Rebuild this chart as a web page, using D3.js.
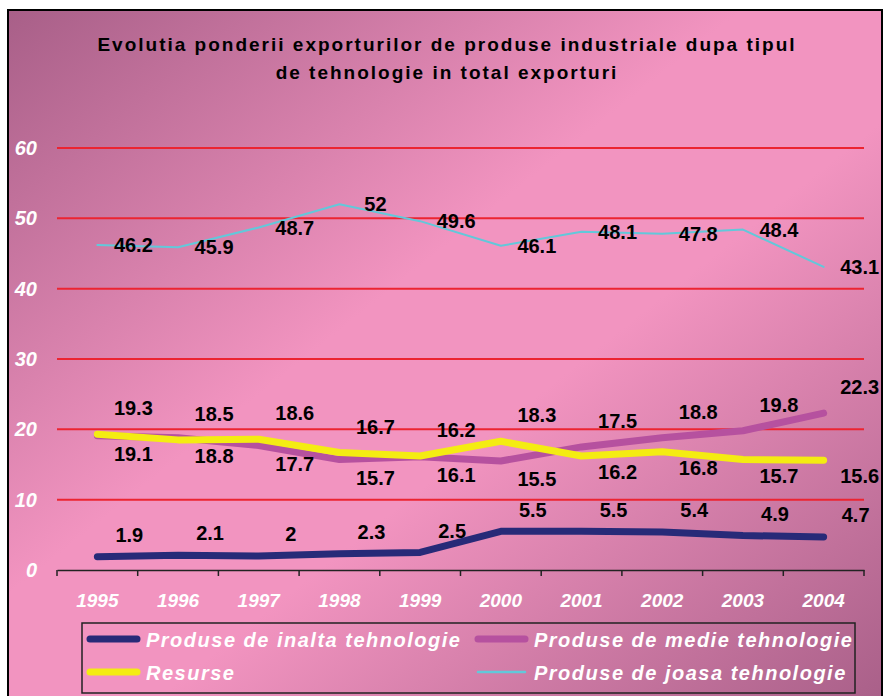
<!DOCTYPE html>
<html>
<head>
<meta charset="utf-8">
<script src="https://cdn.jsdelivr.net/npm/d3@7"></script>
<style>
  body { margin: 0; background: #fff; }
  svg { display: block; font-family: "Liberation Sans", Arial, sans-serif; }
</style>
</head>
<body>
<svg width="883" height="696"></svg>
<script>
const years = ["1995", "1996", "1997", "1998", "1999", "2000", "2001", "2002", "2003", "2004"];
const inalta = [1.9, 2.1, 2, 2.3, 2.5, 5.5, 5.5, 5.4, 4.9, 4.7];
const medie = [19.1, 18.8, 17.7, 15.7, 16.1, 15.5, 17.5, 18.8, 19.8, 22.3];
const resurse = [19.3, 18.5, 18.6, 16.7, 16.2, 18.3, 16.2, 16.8, 15.7, 15.6];
const joasa = [46.2, 45.9, 48.7, 52, 49.6, 46.1, 48.1, 47.8, 48.4, 43.1];
const yTicks = [0, 10, 20, 30, 40, 50, 60];
const title = ["Evolutia ponderii exporturilor de produse industriale dupa tipul",
               "de tehnologie in total exporturi"];

const svg = d3.select("svg"),
    width = +svg.attr("width"),
    height = +svg.attr("height");

// background with diagonal gradient
const defs = svg.append("defs");
const grad = defs.append("linearGradient")
    .attr("id", "bg")
    .attr("x1", 0).attr("y1", 0).attr("x2", 1).attr("y2", 1);
grad.append("stop").attr("offset", 0).attr("stop-color", "#a85f88");
grad.append("stop").attr("offset", 0.42).attr("stop-color", "#f294c0");
grad.append("stop").attr("offset", 0.58).attr("stop-color", "#f294c0");
grad.append("stop").attr("offset", 1).attr("stop-color", "#a85f88");

svg.append("rect")
    .attr("x", 8).attr("y", 10)
    .attr("width", width - 9).attr("height", height)
    .attr("fill", "url(#bg)")
    .attr("stroke", "#000")
    .attr("stroke-width", 2);

svg.append("g")
    .selectAll("text")
    .data(title)
    .enter().append("text")
    .attr("x", 447)
    .attr("y", (d, i) => 51 + i * 28)
    .attr("text-anchor", "middle")
    .style("font-size", "19px")
    .style("font-weight", "bold")
    .style("letter-spacing", "2px")
    .text(d => d);

const x = d3.scaleBand().domain(years).range([57, 864]);
const y = d3.scaleLinear().domain([0, 60]).range([570, 148]);
const cx = d => x(d) + x.bandwidth() / 2;

// grid lines
svg.append("g")
    .selectAll("line")
    .data(yTicks.filter(d => d > 0))
    .enter().append("line")
    .attr("x1", 57).attr("x2", 864)
    .attr("y1", d => y(d)).attr("y2", d => y(d))
    .attr("stroke", "#ec2431")
    .attr("stroke-width", 2);

// y labels
svg.append("g")
    .selectAll("text")
    .data(yTicks)
    .enter().append("text")
    .attr("x", 37)
    .attr("y", d => y(d) + 7)
    .attr("text-anchor", "end")
    .attr("fill", "#fff")
    .style("font-size", "20px")
    .style("font-weight", "bold")
    .style("font-style", "italic")
    .text(d => d);

// x axis
const xAxis = svg.append("g")
    .attr("transform", "translate(0," + y(0) + ")")
    .call(d3.axisBottom(x).tickSize(0).tickFormat(""));
xAxis.select(".domain").attr("stroke", "#222").attr("stroke-width", 1.5);
xAxis.append("g")
    .selectAll("line")
    .data(d3.range(years.length + 1))
    .enter().append("line")
    .attr("x1", i => 57 + i * x.bandwidth())
    .attr("x2", i => 57 + i * x.bandwidth())
    .attr("y1", 0).attr("y2", 6)
    .attr("stroke", "#222").attr("stroke-width", 1.5);

svg.append("g")
    .selectAll("text")
    .data(years)
    .enter().append("text")
    .attr("x", d => cx(d))
    .attr("y", 607)
    .attr("text-anchor", "middle")
    .attr("fill", "#fff")
    .style("font-size", "19px")
    .style("font-weight", "bold")
    .style("font-style", "italic")
    .text(d => d);

const series = [
    {name: "Produse de joasa tehnologie", values: joasa, color: "#62c8da", width: 2},
    {name: "Produse de medie tehnologie", values: medie, color: "#b6519f", width: 7},
    {name: "Resurse", values: resurse, color: "#f4ec12", width: 7},
    {name: "Produse de inalta tehnologie", values: inalta, color: "#272a78", width: 7}
];

const line = d3.line()
    .x((d, i) => cx(years[i]))
    .y(d => y(d));

svg.append("g")
    .selectAll("path")
    .data(series)
    .enter().append("path")
    .attr("d", d => line(d.values))
    .attr("fill", "none")
    .attr("stroke", d => d.color)
    .attr("stroke-width", d => d.width)
    .attr("stroke-linecap", "round")
    .attr("stroke-linejoin", "round");

// data labels
function labels(values, dx, dyFn) {
    svg.append("g")
        .selectAll("text")
        .data(values)
        .enter().append("text")
        .attr("x", (d, i) => cx(years[i]) + dx)
        .attr("y", (d, i) => y(d) + dyFn(d, i))
        .attr("dy", "0.36em")
        .attr("text-anchor", "middle")
        .style("font-size", "20px")
        .style("font-weight", "bold")
        .attr("fill", "#000")
        .text(d => d);
}
labels(joasa, 36, () => 0);
labels(inalta, 32, () => -22);
// resurse labels sit above until 2000, then below; medie the other way round
labels(resurse, 36, (d, i) => i <= 5 ? -26 : 16);
labels(medie, 36, (d, i) => i <= 5 ? 18 : -26);

// legend
const legend = svg.append("g");
legend.append("rect")
    .attr("x", 82).attr("y", 623)
    .attr("width", 773).attr("height", 70)
    .attr("fill", "none")
    .attr("stroke", "#222")
    .attr("stroke-width", 1.5);

const legendOrder = [series[3], series[1], series[2], series[0]];
const item = legend.selectAll("g.item")
    .data(legendOrder)
    .enter().append("g")
    .attr("class", "item")
    .attr("transform", (d, i) => "translate(" + (i % 2 ? 475 : 87) + "," + (i < 2 ? 639 : 672) + ")");

item.append("line")
    .attr("x1", 3).attr("x2", 50)
    .attr("stroke", d => d.color)
    .attr("stroke-width", d => d.width === 2 ? 2.5 : 7)
    .attr("stroke-linecap", "round");

item.append("text")
    .attr("x", 59)
    .attr("y", 8)
    .attr("fill", "#fff")
    .style("font-size", "20px")
    .style("font-weight", "bold")
    .style("font-style", "italic")
    .style("letter-spacing", "1.5px")
    .text(d => d.name);
</script>
</body>
</html>
